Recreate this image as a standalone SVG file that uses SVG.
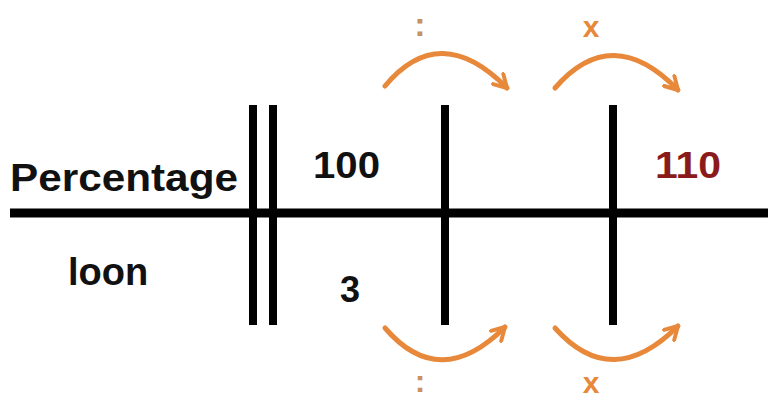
<svg xmlns="http://www.w3.org/2000/svg" width="768" height="400" viewBox="0 0 768 400">
<style>
.ln{stroke:#000;stroke-width:9;fill:none}
.vb{stroke:#000;stroke-width:8;fill:none}
.t{font-family:"Liberation Sans",Arial,sans-serif;font-weight:bold;fill:#111}
.arc{stroke:#E8883A;stroke-width:5;fill:none;stroke-linecap:round}
.op{font-family:"Liberation Sans",Arial,sans-serif;font-weight:bold;fill:#E8883A;font-size:30px}
.col{font-family:"Liberation Sans",Arial,sans-serif;font-weight:bold;fill:#C8925E;font-size:34px}
</style>
<defs>
<marker id="ah" viewBox="0 0 10 10" markerUnits="userSpaceOnUse" markerWidth="18" markerHeight="18" refX="8" refY="5" orient="auto">
<path d="M1,1 L8,5 L1,9" stroke="#E8883A" stroke-width="2.2" fill="none" stroke-linecap="round" stroke-linejoin="round"/>
</marker>
</defs>
<rect width="768" height="400" fill="#fff"/>
<g id="axes">
<line class="ln" x1="10" y1="213" x2="768" y2="213"/>
<line class="vb" x1="253" y1="105" x2="253" y2="325"/>
<line class="vb" x1="273" y1="105" x2="273" y2="325"/>
<line class="vb" x1="445" y1="105" x2="445" y2="325"/>
<line class="vb" x1="613" y1="105" x2="613" y2="325"/>
</g>
<g id="labels">
<text class="t" x="10" y="191" font-size="38" textLength="228" lengthAdjust="spacingAndGlyphs">Percentage</text>
<text class="t" x="68" y="285" font-size="38">loon</text>
<text class="t" x="313" y="178" font-size="36" textLength="67" lengthAdjust="spacingAndGlyphs">100</text>
<text class="t" x="340" y="302" font-size="36">3</text>
<text class="t" x="655" y="178" font-size="36" textLength="66" lengthAdjust="spacingAndGlyphs" style="fill:#8B1A1A">110</text>
</g>
<g id="connectors">
<path class="arc" d="M385,86 Q440,20 507,88" marker-end="url(#ah)"/>
<path class="arc" d="M555,88 Q612,22 678,90" marker-end="url(#ah)"/>
<path class="arc" d="M385,328 Q440,392 505,327" marker-end="url(#ah)"/>
<path class="arc" d="M555,328 Q612,392 678,326" marker-end="url(#ah)"/>
</g>
<g id="ops">
<text class="col" x="420" y="36" text-anchor="middle">:</text>
<text class="op" x="591" y="37" text-anchor="middle">x</text>
<text class="col" x="420" y="392" text-anchor="middle" style="font-size:32px">:</text>
<text class="op" x="591" y="393" text-anchor="middle">x</text>
</g>
</svg>
